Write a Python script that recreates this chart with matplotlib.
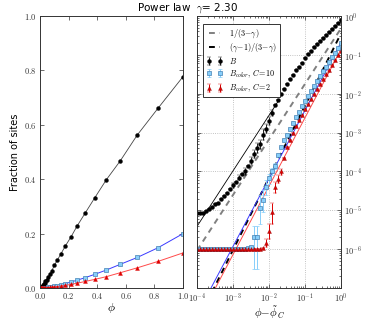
import numpy as np
import matplotlib
matplotlib.use('Agg')
import matplotlib.pyplot as plt
from matplotlib.ticker import FuncFormatter, LogLocator, NullFormatter, MultipleLocator, FixedLocator

# ---------------- data ----------------
gamma = 2.30

# log10(phi - phi_C) sampling points (12 per decade)
log_dphi = [-4.000, -3.917, -3.833, -3.750, -3.667, -3.583, -3.500, -3.417, -3.333,
            -3.250, -3.167, -3.083, -3.000, -2.917, -2.833, -2.750, -2.667, -2.583,
            -2.500, -2.417, -2.333, -2.250, -2.167, -2.083, -2.000, -1.917, -1.833,
            -1.750, -1.667, -1.583, -1.500, -1.417, -1.333, -1.250, -1.167, -1.083,
            -1.000, -0.917, -0.833, -0.750, -0.667, -0.583, -0.500, -0.417, -0.333,
            -0.250, -0.167, -0.083, 0.000]

# log10 of B (giant component)
log_B = [-5.08, -5.08, -5.06, -5.02, -4.96, -4.92, -4.85, -4.80, -4.70, -4.64,
         -4.55, -4.44, -4.36, -4.28, -4.16, -4.06, -4.00, -3.85, -3.72, -3.56,
         -3.40, -3.30, -3.05, -2.90, -2.70, -2.50, -2.30, -2.15, -2.00, -1.87,
         -1.74, -1.62, -1.51, -1.40, -1.30, -1.20, -1.08, -0.99, -0.90, -0.81,
         -0.73, -0.64, -0.56, -0.48, -0.40, -0.33, -0.25, -0.18, -0.11]

# log10 of B_color, C=10
log_B10 = [-6.00, -6.00, -6.00, -6.00, -6.00, -6.00, -6.00, -6.00, -6.00, -6.00,
           -6.00, -6.00, -6.00, -6.00, -6.00, -6.00, -5.99, -5.97, -5.95, -5.70,
           -5.70, -4.95, -4.74, -4.41, -4.18, -4.00, -3.85, -3.58, -3.38, -3.20,
           -3.05, -2.90, -2.75, -2.60, -2.46, -2.32, -2.18, -2.05, -1.92, -1.79,
           -1.66, -1.54, -1.42, -1.30, -1.18, -1.06, -0.95, -0.83, -0.70]

# log10 of B_color, C=2
log_B2 = [-6.00, -6.00, -6.00, -6.00, -6.00, -6.00, -6.00, -6.00, -6.00, -6.00,
          -6.00, -6.00, -6.00, -6.00, -6.00, -6.00, -6.00, -6.00, -6.00, -6.00,
          -6.00, -5.99, -5.97, -5.85, -5.54, -5.05, -4.40, -4.20, -4.00, -3.65,
          -3.38, -3.18, -3.00, -2.84, -2.68, -2.54, -2.40, -2.27, -2.14, -2.01,
          -1.88, -1.75, -1.62, -1.50, -1.38, -1.25, -1.13, -1.01, -0.89]

# error bars (in decades) at selected indices
B_err_idx = [12, 14, 16, 18, 19, 20, 21, 22, 23, 24, 25]
B_err_dex = [0.06, 0.06, 0.08, 0.08, 0.10, 0.12, 0.12, 0.14, 0.12, 0.10, 0.08]
B10_err_idx = [19, 20, 21, 22, 23, 24, 25, 26]
B10_err_lo = [0.80, 0.80, 0.40, 0.30, 0.20, 0.15, 0.10, 0.08]
B10_err_hi = [0.30, 0.30, 0.35, 0.25, 0.18, 0.12, 0.08, 0.06]
B2_err_idx = [23, 24, 25, 26, 27, 28]
B2_err_lo = [0.10, 0.20, 0.30, 0.15, 0.10, 0.08]
B2_err_hi = [0.10, 0.18, 0.25, 0.12, 0.10, 0.06]

# axis tick exponents
x_exps = [-4, -3, -2, -1, 0]
y_exps = [-7, -6, -5, -4, -3, -2, -1, 0]

# reference / fit lines: (log10 amplitude, slope, log10 x range)
slope_a = 1.0 / (3.0 - gamma)
slope_b = (gamma - 1.0) / (3.0 - gamma)
fit_B = (0.30, slope_a, -4.0, -1.72)
ref_gray = (-0.32, slope_a, -4.0, 0.0)
ref_black = (-0.45, slope_b, -4.0, 0.0)
fit_B10 = (-0.68, 1.75, -4.0, 0.0)
fit_B2 = (-0.86, 1.76, -4.0, 0.0)

# ---------------- style ----------------
plt.rcParams['mathtext.fontset'] = 'cm'
plt.rcParams['font.family'] = ['DejaVu Sans']
for a in ('xtick', 'ytick'):
    plt.rcParams[a + '.direction'] = 'in'
    plt.rcParams[a + '.major.size'] = 3
    plt.rcParams[a + '.minor.size'] = 1.5
    plt.rcParams[a + '.major.width'] = 0.5
    plt.rcParams[a + '.minor.width'] = 0.5
    plt.rcParams[a + '.labelsize'] = 6
    plt.rcParams[a + '.color'] = '#333333'
    plt.rcParams[a + '.major.pad'] = 2.5
plt.rcParams['xtick.top'] = True
plt.rcParams['ytick.right'] = True
plt.rcParams['axes.linewidth'] = 0.7
plt.rcParams['axes.edgecolor'] = '#333333'

BLUE_LINE = '#3a3aff'
BLUE_FACE = '#87cefa'
BLUE_EDGE = '#4682b4'
RED_LINE = '#ff4a4a'
RED_FACE = '#dd0000'

x = 10 ** np.array(log_dphi)
B = 10 ** np.array(log_B)
B10 = 10 ** np.array(log_B10)
B2 = 10 ** np.array(log_B2)


def make_err(vals, idx, lo, hi):
    e = np.zeros((2, len(vals)))
    for i, l, h in zip(idx, lo, hi):
        e[0, i] = vals[i] - vals[i] * 10 ** (-l)
        e[1, i] = vals[i] * 10 ** h - vals[i]
    return e


fig = plt.figure(figsize=(3.72, 3.2), dpi=100)
axL = fig.add_axes([0.1075, 0.10, 0.384, 0.85])
axR = fig.add_axes([0.5296, 0.10, 0.387, 0.85])

# ---------------- left panel ----------------
axL.plot(x, B, '-', color='#444444', lw=0.6, marker='o', ms=2.8, mfc='k', mec='k', mew=0.3)
axL.plot(x, B10, '-', color=BLUE_LINE, lw=0.7, marker='s', ms=2.6,
         mfc=BLUE_FACE, mec=BLUE_EDGE, mew=0.5)
axL.plot(x, B2, '-', color=RED_LINE, lw=0.7, marker='^', ms=2.8,
         mfc=RED_FACE, mec=RED_FACE, mew=0.3)
axL.set_xlim(0, 1)
axL.set_ylim(0, 1)
axL.xaxis.set_major_locator(MultipleLocator(0.2))
axL.yaxis.set_major_locator(MultipleLocator(0.2))
fmt = FuncFormatter(lambda v, p: r'$%.1f$' % v)
axL.xaxis.set_major_formatter(fmt)
axL.yaxis.set_major_formatter(fmt)
axL.set_xlabel(r'$\phi$', fontsize=8.5, labelpad=0)
axL.set_ylabel('Fraction of sites', fontsize=7, labelpad=3)

# ---------------- right panel ----------------
axR.set_xscale('log')
axR.set_yscale('log')


def draw_line(spec, **kw):
    c, s, lo, hi = spec
    xl = np.logspace(lo, hi, 60)
    return axR.plot(xl, 10 ** c * xl ** s, **kw)[0]


draw_line(fit_B, color='k', lw=0.6)
h_gray = draw_line(ref_gray, color='#808080', lw=1.4, ls=(0, (3, 2.5)))
h_black = draw_line(ref_black, color='k', lw=1.4, ls=(0, (3, 2.5)))
draw_line(fit_B10, color=BLUE_LINE, lw=0.7)
draw_line(fit_B2, color=RED_LINE, lw=0.7)

hB = axR.errorbar(x, B, yerr=make_err(B, B_err_idx, B_err_dex, B_err_dex), fmt='o',
                  ms=2.8, color='k', mfc='k', mec='k', mew=0.3, elinewidth=0.6, capsize=1.2)
h10 = axR.errorbar(x, B10, yerr=make_err(B10, B10_err_idx, B10_err_lo, B10_err_hi), fmt='s',
                   ms=2.6, color=BLUE_FACE, ecolor=BLUE_FACE, mfc=BLUE_FACE, mec=BLUE_EDGE,
                   mew=0.5, elinewidth=0.7, capsize=1.2)
h2 = axR.errorbar(x, B2, yerr=make_err(B2, B2_err_idx, B2_err_lo, B2_err_hi), fmt='^',
                  ms=2.8, color=RED_FACE, ecolor=RED_FACE, mfc=RED_FACE, mec='#990000',
                  mew=0.3, elinewidth=0.7, capsize=1.2)

axR.set_xlim(1e-4, 1)
axR.set_ylim(1e-7, 1)
axR.xaxis.set_major_locator(FixedLocator([10.0 ** e for e in x_exps]))
axR.yaxis.set_major_locator(FixedLocator([10.0 ** e for e in y_exps]))
axR.xaxis.set_minor_locator(LogLocator(base=10, subs=np.arange(2, 10), numticks=20))
axR.yaxis.set_minor_locator(LogLocator(base=10, subs=np.arange(2, 10), numticks=20))
axR.xaxis.set_minor_formatter(NullFormatter())
axR.yaxis.set_minor_formatter(NullFormatter())
axR.xaxis.set_major_formatter(FuncFormatter(lambda v, p: r'$10^{%d}$' % int(round(np.log10(v)))))
axR.yaxis.set_major_formatter(FuncFormatter(
    lambda v, p: '' if int(round(np.log10(v))) == y_exps[0] else r'$10^{%d}$' % int(round(np.log10(v)))))
axR.tick_params(axis='y', which='both', left=True, right=True, labelleft=False, labelright=True)
axR.grid(True, which='major', ls=':', color='#b0b0b0', lw=0.6)
axR.set_xlabel(r'$\phi\!-\!\tilde{\phi}_C$', fontsize=8, labelpad=0)

leg = axR.legend([h_gray, h_black, hB, h10, h2],
                 [r'$1/(3\!-\!\gamma)$', r'$(\gamma\!-\!1)/(3\!-\!\gamma)$', r'$B$',
                  r'$B_{color},\,C\!=\!10$', r'$B_{color},\,C\!=\!2$'],
                 loc='upper left', fontsize=5.8, numpoints=2, handlelength=2.0,
                 fancybox=False, framealpha=1, edgecolor='#333333',
                 borderpad=0.4, labelspacing=0.2, handletextpad=0.8,
                 bbox_to_anchor=(0.015, 0.985))
leg.get_frame().set_linewidth(0.7)

fig.suptitle(r'Power law  $\gamma$= 2.30', x=0.505, y=0.995, fontsize=7.5)

fig.savefig('out.png', dpi=100)
